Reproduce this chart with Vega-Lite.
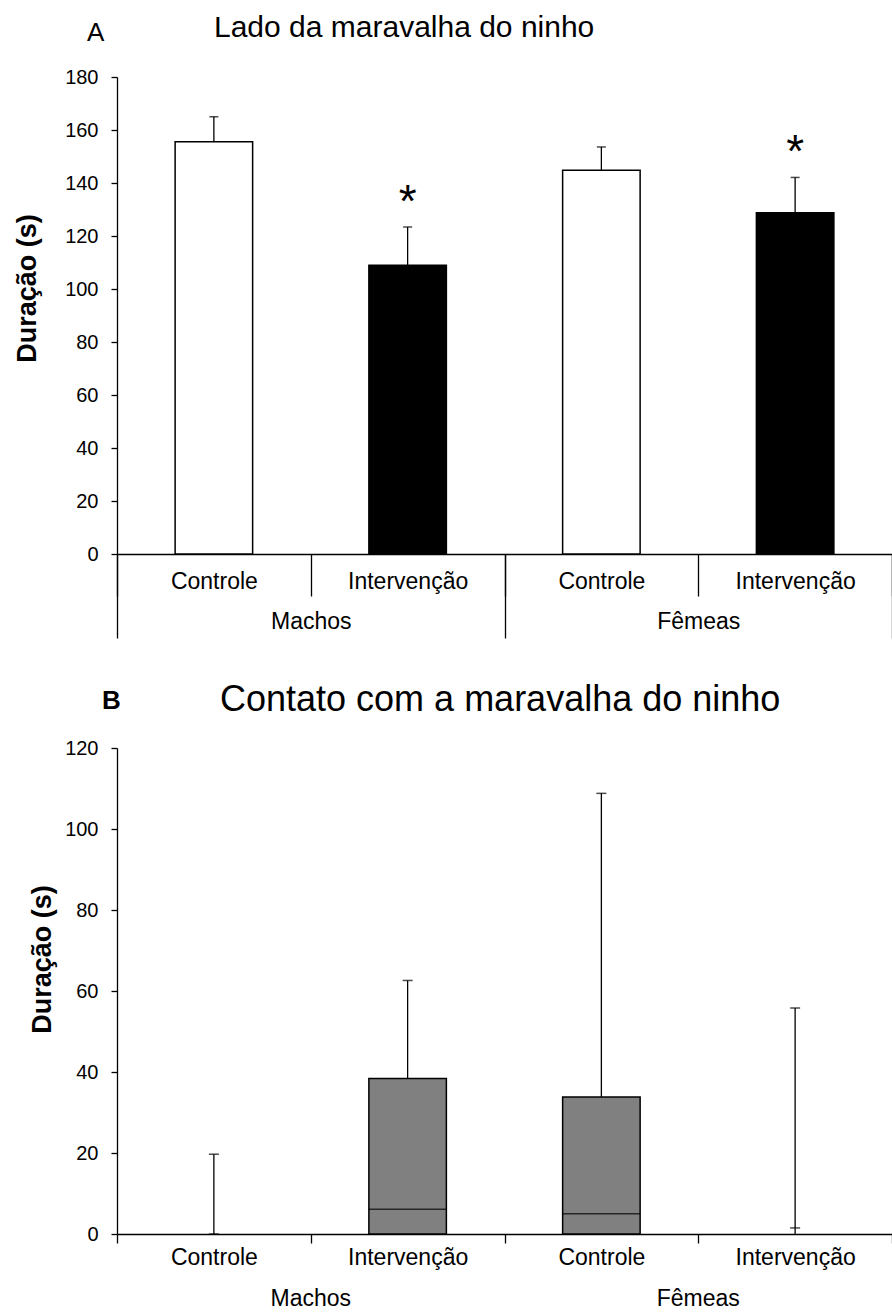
{
  "$schema": "https://vega.github.io/schema/vega-lite/v6.json",
  "padding": {"left": 13, "top": 13, "right": 0, "bottom": 0},
  "config": {
    "view": {"stroke": null},
    "font": "Liberation Sans",
    "axis": {
      "grid": false,
      "domainColor": "#000",
      "domainWidth": 1.3,
      "tickColor": "#000",
      "tickWidth": 1.3,
      "labelColor": "#000",
      "titleColor": "#000",
      "labelFont": "Liberation Sans",
      "labelFontSize": 23,
      "titleFont": "Liberation Sans"
    },
    "title": {"color": "#000", "font": "Liberation Sans", "fontWeight": "normal"}
  },
  "datasets": {
    "lado": [
      {"sexo": "Machos", "cond": "Controle", "id": "Machos|Controle", "media": 155.6, "lim": 165, "sig": ""},
      {"sexo": "Machos", "cond": "Intervenção", "id": "Machos|Intervenção", "media": 109, "lim": 123.4, "sig": "*"},
      {"sexo": "Fêmeas", "cond": "Controle", "id": "Fêmeas|Controle", "media": 144.8, "lim": 153.6, "sig": ""},
      {"sexo": "Fêmeas", "cond": "Intervenção", "id": "Fêmeas|Intervenção", "media": 128.8, "lim": 142.1, "sig": "*"}
    ],
    "contato": [
      {"sexo": "Machos", "cond": "Controle", "id": "Machos|Controle", "minimo": 0, "q1": 0, "mediana": 0, "q3": 0, "maximo": 19.7},
      {"sexo": "Machos", "cond": "Intervenção", "id": "Machos|Intervenção", "minimo": 0, "q1": 0, "mediana": 6.1, "q3": 38.4, "maximo": 62.6},
      {"sexo": "Fêmeas", "cond": "Controle", "id": "Fêmeas|Controle", "minimo": 0, "q1": 0, "mediana": 5, "q3": 33.8, "maximo": 108.8},
      {"sexo": "Fêmeas", "cond": "Intervenção", "id": "Fêmeas|Intervenção", "minimo": 0, "q1": 0, "mediana": 1.5, "q3": 1.5, "maximo": 55.8}
    ]
  },
  "spacing": 42,
  "vconcat": [
    {
      "title": {"text": "A", "anchor": "start", "frame": "bounds", "fontSize": 26, "offset": -33, "dx": 74},
      "vconcat": [
        {
          "title": {"text": "Lado da maravalha do ninho", "anchor": "start", "frame": "group", "fontSize": 30, "offset": 24, "dx": 97},
          "width": 775,
          "height": 477,
          "data": {"name": "lado"},
          "resolve": {"scale": {"x": "independent"}, "axis": {"x": "independent"}},
          "layer": [
            {
              "encoding": {
                "x": {
                  "field": "id", "type": "nominal",
                  "sort": ["Machos|Controle", "Machos|Intervenção", "Fêmeas|Controle", "Fêmeas|Intervenção"],
                  "scale": {"paddingInner": 0, "paddingOuter": 0},
                  "axis": {
                    "orient": "bottom", "title": null, "labelAngle": 0,
                    "labelExpr": "split(datum.label, '|')[1]",
                    "tickBand": "extent", "tickSize": 42, "labelPadding": -25.6
                  }
                }
              },
              "layer": [
                {
                  "mark": {"type": "bar", "stroke": "#000", "strokeWidth": 1.5, "width": {"band": 0.4}},
                  "encoding": {
                    "y": {
                      "field": "media", "type": "quantitative",
                      "scale": {"domain": [0, 180]},
                      "axis": {
                        "title": "Duração (s)", "titleFontSize": 27, "titleFontWeight": "bold",
                        "titlePadding": 23.6, "titleY": 211,
                        "values": [0, 20, 40, 60, 80, 100, 120, 140, 160, 180],
                        "labelFontSize": 20, "tickSize": 6, "labelPadding": 13
                      }
                    },
                    "color": {
                      "field": "cond", "type": "nominal",
                      "scale": {"domain": ["Controle", "Intervenção"], "range": ["#ffffff", "#000000"]},
                      "legend": null
                    }
                  }
                },
                {
                  "mark": {"type": "rule", "color": "#000", "strokeWidth": 1.3},
                  "encoding": {"y": {"field": "media", "type": "quantitative"}, "y2": {"field": "lim"}}
                },
                {
                  "mark": {"type": "tick", "color": "#000", "size": 9, "thickness": 1.5},
                  "encoding": {"y": {"field": "lim", "type": "quantitative"}}
                },
                {
                  "mark": {"type": "text", "baseline": "alphabetic", "dy": -10, "fontSize": 46, "color": "#000"},
                  "encoding": {"y": {"field": "lim", "type": "quantitative"}, "text": {"field": "sig"}}
                }
              ]
            },
            {
              "mark": {"type": "rule", "opacity": 0},
              "encoding": {
                "x": {
                  "field": "sexo", "type": "nominal", "sort": ["Machos", "Fêmeas"],
                  "scale": {"paddingInner": 0, "paddingOuter": 0},
                  "axis": {
                    "orient": "bottom", "title": null, "labelAngle": 0, "domain": false,
                    "tickBand": "extent", "tickSize": 84, "labelPadding": -27.6
                  }
                }
              }
            }
          ]
        }
      ]
    },
    {
      "title": {"text": "B", "anchor": "start", "frame": "bounds", "fontSize": 26, "fontWeight": "bold", "offset": -31.8, "dx": 74},
      "vconcat": [
        {
          "title": {"text": "Contato com a maravalha do ninho", "anchor": "start", "frame": "group", "fontSize": 36, "offset": 19.3, "dx": 103},
          "width": 775,
          "height": 486,
          "data": {"name": "contato"},
          "resolve": {"scale": {"x": "independent"}, "axis": {"x": "independent"}},
          "layer": [
            {
              "encoding": {
                "x": {
                  "field": "id", "type": "nominal",
                  "sort": ["Machos|Controle", "Machos|Intervenção", "Fêmeas|Controle", "Fêmeas|Intervenção"],
                  "scale": {"paddingInner": 0, "paddingOuter": 0},
                  "axis": {
                    "orient": "bottom", "title": null, "labelAngle": 0,
                    "labelExpr": "split(datum.label, '|')[1]",
                    "tickBand": "extent", "tickSize": 9, "labelPadding": 3.9
                  }
                }
              },
              "layer": [
                {
                  "mark": {"type": "rule", "color": "#000", "strokeWidth": 1.3},
                  "encoding": {
                    "y": {
                      "field": "minimo", "type": "quantitative",
                      "scale": {"domain": [0, 120]},
                      "axis": {
                        "title": "Duração (s)", "titleFontSize": 27, "titleFontWeight": "bold",
                        "titlePadding": 8.6, "titleY": 211,
                        "values": [0, 20, 40, 60, 80, 100, 120],
                        "labelFontSize": 20, "tickSize": 6, "labelPadding": 13
                      }
                    },
                    "y2": {"field": "maximo"}
                  }
                },
                {
                  "transform": [{"filter": "datum.q3 > datum.mediana"}],
                  "mark": {"type": "bar", "color": "#808080", "stroke": "#000", "strokeWidth": 1.5, "width": {"band": 0.4}},
                  "encoding": {"y": {"field": "q1", "type": "quantitative"}, "y2": {"field": "q3"}}
                },
                {
                  "transform": [{"filter": "datum.q3 > datum.mediana"}],
                  "mark": {"type": "tick", "color": "#000", "size": 78, "thickness": 1.5},
                  "encoding": {"y": {"field": "mediana", "type": "quantitative"}}
                },
                {
                  "transform": [{"filter": "datum.q3 <= datum.mediana"}],
                  "mark": {"type": "tick", "color": "#000", "size": 10, "thickness": 1.5},
                  "encoding": {"y": {"field": "mediana", "type": "quantitative"}}
                },
                {
                  "mark": {"type": "tick", "color": "#000", "size": 10, "thickness": 1.5},
                  "encoding": {"y": {"field": "maximo", "type": "quantitative"}}
                }
              ]
            },
            {
              "mark": {"type": "rule", "opacity": 0},
              "encoding": {
                "x": {
                  "field": "sexo", "type": "nominal", "sort": ["Machos", "Fêmeas"],
                  "scale": {"paddingInner": 0, "paddingOuter": 0},
                  "axis": {
                    "orient": "bottom", "title": null, "labelAngle": 0, "domain": false,
                    "ticks": false, "labelPadding": 53
                  }
                }
              }
            }
          ]
        }
      ]
    }
  ]
}
